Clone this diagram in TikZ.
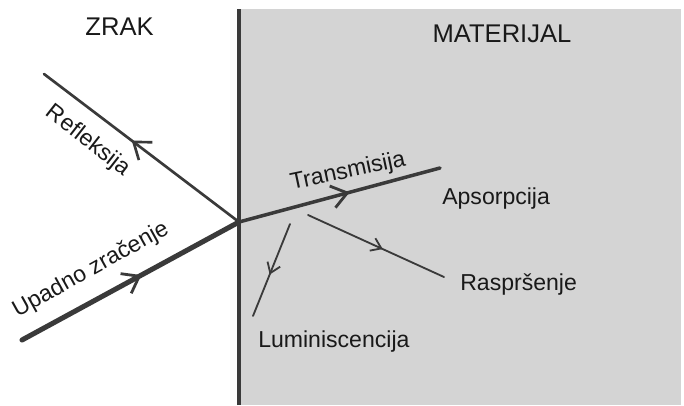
\documentclass[tikz,border=0pt]{standalone}
\usepackage{fontspec}
\setmainfont{Liberation Sans}
\usetikzlibrary{arrows.meta,decorations.markings}
\definecolor{rayc}{HTML}{3A3A3A}
\definecolor{matc}{HTML}{D4D4D4}
\begin{document}
\begin{tikzpicture}[line cap=round, line join=round, font=\fontsize{16.4}{18}\selectfont,
	mid arrow/.style={postaction={decorate}, decoration={markings,
			mark=at position 0.55 with {\arrow{#1}}}},
	ray/.style={draw=rayc},
	lbl/.style={inner sep=0pt, text=black!90},
	title/.style={lbl, anchor=base, font=\fontsize{18.2}{20}\selectfont}]
	\useasboundingbox (0,0) rectangle (17.1,10.125);
	\fill[matc] (5.975,0) rectangle (17.025,9.9);
	\draw[rayc, line width=2.8pt, line cap=butt] (5.975,0)--(5.975,9.9);
	% points
	\coordinate (O) at (5.975,4.575);
	\coordinate (inc) at (0.55,1.625);
	\coordinate (ref) at (1.1,8.275);
	\coordinate (tra) at (11.0,5.925);
	\coordinate (sc1) at (7.7,4.75);
	\coordinate (sc2) at (11.1,3.2);
	\coordinate (lu1) at (7.25,4.525);
	\coordinate (lu2) at (6.325,2.225);
	% rays
	\draw[ray, line width=3.6pt, mid arrow={Straight Barb[length=3.8mm,width=5.6mm,line width=2pt]}] (inc)--(O);
	\draw[ray, line width=1.9pt, mid arrow={Straight Barb[length=3.8mm,width=5.6mm,line width=1.9pt]}] (O)--(ref);
	\draw[ray, line width=2.5pt, mid arrow={Straight Barb[length=3.8mm,width=5.6mm,line width=2pt]}] (O)--(tra);
	\draw[ray, line width=1.3pt, mid arrow={Straight Barb[length=2.4mm,width=3.4mm,line width=1.3pt]}] (sc1)--(sc2);
	\draw[ray, line width=1.3pt, mid arrow={Straight Barb[length=2.4mm,width=3.4mm,line width=1.3pt]}] (lu1)--(lu2);
	% labels
	\node[title] (zrak) at (2.99,9.225) {ZRAK};
	\node[title] (mat) at (12.55,9.05) {MATERIJAL};
	\node[lbl, anchor=base west] (aps) at (11.05,5.025) {Apsorpcija};
	\node[lbl, anchor=base west] (ras) at (11.5,2.875) {Raspršenje};
	\node[lbl, anchor=base west] (lum) at (6.45,1.45) {Luminiscencija};
	\node[lbl, rotate=12] (trl) at (8.7,5.825) {Transmisija};
	\node[lbl, rotate=-38] (rfl) at (2.2,6.6) {Refleksija};
	\node[lbl, rotate=29] (upl) at (2.275,3.375) {Upadno zračenje};
\end{tikzpicture}
\end{document}
